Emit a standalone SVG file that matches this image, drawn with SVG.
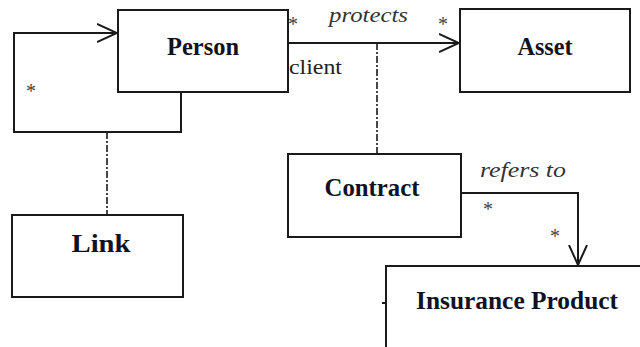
<svg xmlns="http://www.w3.org/2000/svg" width="640" height="347" viewBox="0 0 640 347">
  <style>
    .box { fill: #ffffff; stroke: #1a1a1a; stroke-width: 2; }
    .name { font-family: "Liberation Serif", "Times New Roman", Tinos, "Nimbus Roman", Times, serif; font-weight: bold; font-size: 25px; fill: #111122; text-anchor: middle; }
    .edge { fill: none; stroke: #1a1a1a; stroke-width: 2; }
    .dash { fill: none; stroke: #1a1a1a; stroke-width: 1.6; stroke-dasharray: 7 2 2 2; }
    .role { font-family: "Liberation Serif", "Times New Roman", Tinos, "Nimbus Roman", Times, serif; font-style: italic; font-size: 21px; fill: #333333; }
    .plain { font-family: "Liberation Serif", "Times New Roman", Tinos, "Nimbus Roman", Times, serif; font-size: 22px; fill: #222222; }
    .mult { font-family: "Liberation Serif", "Times New Roman", Tinos, "Nimbus Roman", Times, serif; font-size: 20px; fill: #444444; }
  </style>
  <defs>
    <marker id="open" viewBox="0 0 20 20" refX="20" refY="10" markerWidth="20" markerHeight="20" markerUnits="userSpaceOnUse" orient="auto">
      <path d="M0,1 L20,10 L0,19" fill="none" stroke="#1a1a1a" stroke-width="2"/>
    </marker>
  </defs>

  <g id="connectors">
    <!-- self association on Person -->
    <path class="edge" d="M181,92 V132 H14 V33 H117" marker-end="url(#open)"/>
    <!-- association class link for the self association -->
    <path class="dash" d="M107,132 V215"/>
    <!-- Person protects Asset -->
    <path class="edge" d="M288,43 H459" marker-end="url(#open)"/>
    <!-- association class Contract -->
    <path class="dash" d="M377,43 V154"/>
    <!-- Contract refers to Insurance Product -->
    <path class="edge" d="M461,193 H578 V265" marker-end="url(#open)"/>
    <path class="edge" d="M382,303 H386"/>

    <text class="mult" x="26" y="98">*</text>
    <text class="mult" x="288" y="31">*</text>
    <text class="role" x="329" y="22" textLength="79" lengthAdjust="spacingAndGlyphs">protects</text>
    <text class="mult" x="438" y="31">*</text>
    <text class="plain" x="289" y="74" textLength="53" lengthAdjust="spacingAndGlyphs">client</text>
    <text class="role" x="480" y="177" textLength="86" lengthAdjust="spacingAndGlyphs">refers to</text>
    <text class="mult" x="483" y="216">*</text>
    <text class="mult" x="550" y="243">*</text>
  </g>

  <g id="person">
    <rect class="box" x="118" y="10" width="170" height="82"/>
    <text class="name" x="203" y="55" textLength="72" lengthAdjust="spacingAndGlyphs">Person</text>
  </g>

  <g id="asset">
    <rect class="box" x="460" y="9" width="170" height="83"/>
    <text class="name" x="545" y="55" textLength="55" lengthAdjust="spacingAndGlyphs">Asset</text>
  </g>

  <g id="link">
    <rect class="box" x="12" y="215" width="171" height="82"/>
    <text class="name" x="101" y="252" textLength="59" lengthAdjust="spacingAndGlyphs">Link</text>
  </g>

  <g id="contract">
    <rect class="box" x="288" y="154" width="173" height="83"/>
    <text class="name" x="372" y="196" textLength="95" lengthAdjust="spacingAndGlyphs">Contract</text>
  </g>

  <g id="insurance-product">
    <rect class="box" x="386" y="266" width="270" height="100"/>
    <text class="name" x="517" y="309" textLength="202" lengthAdjust="spacingAndGlyphs">Insurance Product</text>
  </g>
</svg>
